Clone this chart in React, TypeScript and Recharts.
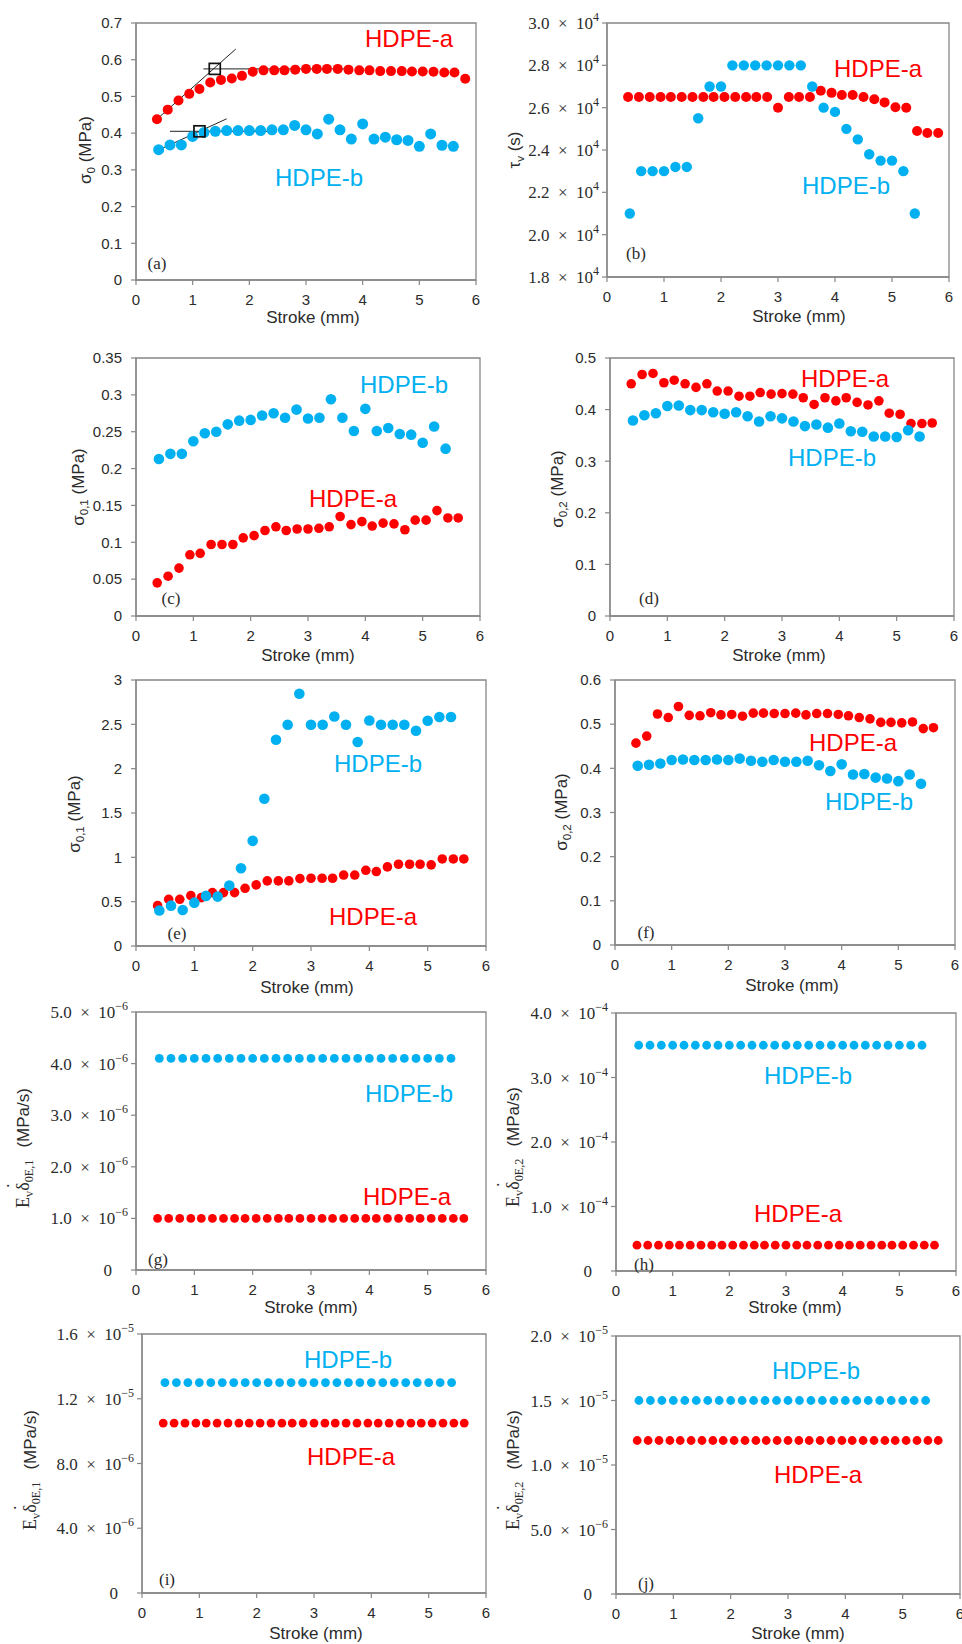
import React from "react";
import { ScatterChart, Scatter, XAxis, YAxis, ReferenceArea, ReferenceLine } from "recharts";

const RED = "#FF0000";
const BLUE = "#00B0F0";
const FRAME = "#878787";
const INK = "#2b2b2b";
const SANS = "'Liberation Sans', Arial, sans-serif";
const SERIF = "'Liberation Serif', 'Times New Roman', serif";

// stroke positions (mm) of the two series
const X_RED = [0.37, 0.56, 0.75, 0.94, 1.12, 1.31, 1.50, 1.69, 1.87, 2.06, 2.25, 2.44, 2.62, 2.81, 3.00,
  3.19, 3.37, 3.56, 3.75, 3.94, 4.12, 4.31, 4.50, 4.69, 4.87, 5.06, 5.25, 5.44, 5.62, 5.81];
const X_BLUE = [0.4, 0.6, 0.8, 1.0, 1.2, 1.4, 1.6, 1.8, 2.0, 2.2, 2.4, 2.6, 2.8, 3.0, 3.2, 3.4, 3.6, 3.8,
  4.0, 4.2, 4.4, 4.6, 4.8, 5.0, 5.2, 5.4, 5.6];
const STROKE_TICKS = [0, 1, 2, 3, 4, 5, 6];

// (a) sigma0
const A_RED = [0.438, 0.464, 0.489, 0.507, 0.52, 0.538, 0.545, 0.549, 0.556, 0.567, 0.571, 0.571, 0.571, 0.573, 0.575,
  0.575, 0.575, 0.575, 0.573, 0.571, 0.571, 0.569, 0.569, 0.569, 0.568, 0.568, 0.567, 0.565, 0.565, 0.548];
const A_BLUE = [0.355, 0.368, 0.368, 0.391, 0.402, 0.405, 0.407, 0.407, 0.407, 0.407, 0.409, 0.409, 0.421, 0.409,
  0.398, 0.438, 0.409, 0.384, 0.425, 0.384, 0.389, 0.382, 0.38, 0.364, 0.398, 0.367, 0.364];
const A_TICKS = [0, 0.1, 0.2, 0.3, 0.4, 0.5, 0.6, 0.7];
const A_RED_SLOPE = [{ x: 0.37, y: 0.438 }, { x: 1.76, y: 0.629 }];
const A_RED_FLAT = [{ x: 1.19, y: 0.575 }, { x: 3.75, y: 0.575 }];
const A_BLUE_SLOPE = [{ x: 0.41, y: 0.355 }, { x: 1.6, y: 0.439 }];
const A_BLUE_FLAT = [{ x: 0.6, y: 0.405 }, { x: 2.39, y: 0.405 }];
const A_KNEES = [{ x: 1.39, y: 0.575 }, { x: 1.12, y: 0.405 }];

// (b) tau_v
const B_RED = [26500, 26500, 26500, 26500, 26500, 26500, 26500, 26500, 26500, 26500, 26500, 26500, 26500, 26500,
  26000, 26500, 26500, 26500, 26800, 26700, 26600, 26600, 26500, 26400, 26250, 26020, 26000, 24900, 24800, 24800];
const B_BLUE = [21000, 23000, 23000, 23000, 23200, 23200, 25500, 27000, 27000, 28000, 28000, 28000, 28000, 28000,
  28000, 28000, 27000, 26000, 25800, 25000, 24500, 23800, 23500, 23500, 23000, 21000];
const B_TICKS = [18000, 20000, 22000, 24000, 26000, 28000, 30000];
const B_LABELS: [string, string][] = [["1.8", "4"], ["2.0", "4"], ["2.2", "4"], ["2.4", "4"], ["2.6", "4"], ["2.8", "4"], ["3.0", "4"]];

// (c) sigma0,1
const C_RED = [0.045, 0.054, 0.065, 0.083, 0.085, 0.097, 0.097, 0.097, 0.106, 0.109, 0.116, 0.121, 0.116, 0.118,
  0.118, 0.119, 0.121, 0.135, 0.124, 0.128, 0.122, 0.126, 0.125, 0.117, 0.13, 0.13, 0.143, 0.133, 0.133];
const C_BLUE = [0.213, 0.22, 0.22, 0.237, 0.248, 0.25, 0.26, 0.265, 0.266, 0.272, 0.275, 0.269, 0.28, 0.268, 0.269,
  0.294, 0.269, 0.251, 0.281, 0.251, 0.255, 0.247, 0.246, 0.235, 0.257, 0.227];
const C_TICKS = [0, 0.05, 0.1, 0.15, 0.2, 0.25, 0.3, 0.35];

// (d) sigma0,2
const D_RED = [0.45, 0.468, 0.47, 0.452, 0.457, 0.45, 0.443, 0.45, 0.436, 0.436, 0.426, 0.426, 0.433, 0.43, 0.431,
  0.43, 0.423, 0.41, 0.423, 0.417, 0.423, 0.414, 0.409, 0.417, 0.393, 0.391, 0.373, 0.373, 0.374];
const D_BLUE = [0.379, 0.389, 0.393, 0.407, 0.408, 0.399, 0.399, 0.395, 0.392, 0.395, 0.387, 0.377, 0.387, 0.383,
  0.377, 0.368, 0.371, 0.365, 0.373, 0.358, 0.357, 0.348, 0.348, 0.347, 0.36, 0.348];
const D_TICKS = [0, 0.1, 0.2, 0.3, 0.4, 0.5];

// (e) sigma0,1
const E_RED = [0.455, 0.527, 0.527, 0.568, 0.546, 0.602, 0.602, 0.602, 0.651, 0.689, 0.734, 0.734, 0.734, 0.76,
  0.764, 0.764, 0.764, 0.8, 0.8, 0.854, 0.84, 0.892, 0.922, 0.922, 0.922, 0.915, 0.982, 0.982, 0.982];
const E_BLUE = [0.4, 0.455, 0.406, 0.489, 0.565, 0.557, 0.681, 0.877, 1.186, 1.66, 2.326, 2.495, 2.845, 2.495, 2.495,
  2.589, 2.495, 2.3, 2.544, 2.495, 2.495, 2.495, 2.428, 2.54, 2.582, 2.582];
const E_TICKS = [0, 0.5, 1, 1.5, 2, 2.5, 3];

// (f) sigma0,2
const F_RED = [0.457, 0.473, 0.523, 0.515, 0.54, 0.52, 0.519, 0.526, 0.521, 0.522, 0.518, 0.525, 0.525, 0.524, 0.524,
  0.525, 0.521, 0.524, 0.524, 0.522, 0.519, 0.515, 0.512, 0.504, 0.504, 0.503, 0.505, 0.49, 0.492];
const F_BLUE = [0.406, 0.408, 0.411, 0.419, 0.42, 0.419, 0.419, 0.42, 0.419, 0.422, 0.417, 0.415, 0.419, 0.415, 0.415,
  0.417, 0.407, 0.394, 0.409, 0.386, 0.387, 0.379, 0.377, 0.371, 0.386, 0.365];
const F_TICKS = [0, 0.1, 0.2, 0.3, 0.4, 0.5, 0.6];

// (g) Ev*d0E,1
const G_RED = [1.0e-6, 1.0e-6, 1.0e-6, 1.0e-6, 1.0e-6, 1.0e-6, 1.0e-6, 1.0e-6, 1.0e-6, 1.0e-6, 1.0e-6, 1.0e-6,
  1.0e-6, 1.0e-6, 1.0e-6, 1.0e-6, 1.0e-6, 1.0e-6, 1.0e-6, 1.0e-6, 1.0e-6, 1.0e-6, 1.0e-6, 1.0e-6, 1.0e-6, 1.0e-6,
  1.0e-6, 1.0e-6, 1.0e-6];
const G_BLUE = [4.1e-6, 4.1e-6, 4.1e-6, 4.1e-6, 4.1e-6, 4.1e-6, 4.1e-6, 4.1e-6, 4.1e-6, 4.1e-6, 4.1e-6, 4.1e-6,
  4.1e-6, 4.1e-6, 4.1e-6, 4.1e-6, 4.1e-6, 4.1e-6, 4.1e-6, 4.1e-6, 4.1e-6, 4.1e-6, 4.1e-6, 4.1e-6, 4.1e-6, 4.1e-6];
const G_TICKS = [0, 1e-6, 2e-6, 3e-6, 4e-6, 5e-6];
const G_LABELS: [string, string][] = [["0", ""], ["1.0", "−6"], ["2.0", "−6"], ["3.0", "−6"], ["4.0", "−6"], ["5.0", "−6"]];

// (h) Ev*d0E,2
const H_RED = [4.0e-5, 4.0e-5, 4.0e-5, 4.0e-5, 4.0e-5, 4.0e-5, 4.0e-5, 4.0e-5, 4.0e-5, 4.0e-5, 4.0e-5, 4.0e-5,
  4.0e-5, 4.0e-5, 4.0e-5, 4.0e-5, 4.0e-5, 4.0e-5, 4.0e-5, 4.0e-5, 4.0e-5, 4.0e-5, 4.0e-5, 4.0e-5, 4.0e-5, 4.0e-5,
  4.0e-5, 4.0e-5, 4.0e-5];
const H_BLUE = [3.5e-4, 3.5e-4, 3.5e-4, 3.5e-4, 3.5e-4, 3.5e-4, 3.5e-4, 3.5e-4, 3.5e-4, 3.5e-4, 3.5e-4, 3.5e-4,
  3.5e-4, 3.5e-4, 3.5e-4, 3.5e-4, 3.5e-4, 3.5e-4, 3.5e-4, 3.5e-4, 3.5e-4, 3.5e-4, 3.5e-4, 3.5e-4, 3.5e-4, 3.5e-4];
const H_TICKS = [0, 1e-4, 2e-4, 3e-4, 4e-4];
const H_LABELS: [string, string][] = [["0", ""], ["1.0", "−4"], ["2.0", "−4"], ["3.0", "−4"], ["4.0", "−4"]];

// (i) Ev*d0E,1
const I_RED = [1.05e-5, 1.05e-5, 1.05e-5, 1.05e-5, 1.05e-5, 1.05e-5, 1.05e-5, 1.05e-5, 1.05e-5, 1.05e-5, 1.05e-5,
  1.05e-5, 1.05e-5, 1.05e-5, 1.05e-5, 1.05e-5, 1.05e-5, 1.05e-5, 1.05e-5, 1.05e-5, 1.05e-5, 1.05e-5, 1.05e-5,
  1.05e-5, 1.05e-5, 1.05e-5, 1.05e-5, 1.05e-5, 1.05e-5];
const I_BLUE = [1.3e-5, 1.3e-5, 1.3e-5, 1.3e-5, 1.3e-5, 1.3e-5, 1.3e-5, 1.3e-5, 1.3e-5, 1.3e-5, 1.3e-5, 1.3e-5,
  1.3e-5, 1.3e-5, 1.3e-5, 1.3e-5, 1.3e-5, 1.3e-5, 1.3e-5, 1.3e-5, 1.3e-5, 1.3e-5, 1.3e-5, 1.3e-5, 1.3e-5, 1.3e-5];
const I_TICKS = [0, 4e-6, 8e-6, 1.2e-5, 1.6e-5];
const I_LABELS: [string, string][] = [["0", ""], ["4.0", "−6"], ["8.0", "−6"], ["1.2", "−5"], ["1.6", "−5"]];

// (j) Ev*d0E,2
const J_RED = [1.19e-5, 1.19e-5, 1.19e-5, 1.19e-5, 1.19e-5, 1.19e-5, 1.19e-5, 1.19e-5, 1.19e-5, 1.19e-5, 1.19e-5,
  1.19e-5, 1.19e-5, 1.19e-5, 1.19e-5, 1.19e-5, 1.19e-5, 1.19e-5, 1.19e-5, 1.19e-5, 1.19e-5, 1.19e-5, 1.19e-5,
  1.19e-5, 1.19e-5, 1.19e-5, 1.19e-5, 1.19e-5, 1.19e-5];
const J_BLUE = [1.5e-5, 1.5e-5, 1.5e-5, 1.5e-5, 1.5e-5, 1.5e-5, 1.5e-5, 1.5e-5, 1.5e-5, 1.5e-5, 1.5e-5, 1.5e-5,
  1.5e-5, 1.5e-5, 1.5e-5, 1.5e-5, 1.5e-5, 1.5e-5, 1.5e-5, 1.5e-5, 1.5e-5, 1.5e-5, 1.5e-5, 1.5e-5, 1.5e-5, 1.5e-5];
const J_TICKS = [0, 5e-6, 1e-5, 1.5e-5, 2e-5];
const J_LABELS: [string, string][] = [["0", ""], ["5.0", "−6"], ["1.0", "−5"], ["1.5", "−5"], ["2.0", "−5"]];

// y-axis band wide enough for the "× 10ⁿ" labels, top band tall enough for their exponents
const YW = 130, XH = 40, PT = 22, PR = 10;

type Box = { x0: number; x1: number; y0: number; y1: number };

const dot = (r: number, color: string) => (p: any) =>
  <circle cx={p.cx} cy={p.cy} r={r} fill={color} />;

const knee = (p: any) =>
  <rect x={p.cx - 5.5} y={p.cy - 5.5} width={11} height={11} fill="none" stroke="#111" strokeWidth={1.7} />;

function sciTick(labels: [string, string][], ticks: number[]) {
  return (p: any) => {
    const i = ticks.indexOf(p.payload.value);
    const [m, e] = labels[i >= 0 ? i : p.index] ?? ["", ""];
    if (!e) {
      return <text x={p.x - 16} y={p.y} dy={6} textAnchor="end" fontFamily={SERIF} fontSize={17} fill={INK}>{m}</text>;
    }
    return (
      <text x={p.x} y={p.y} dy={6} textAnchor="end" fontFamily={SERIF} fontSize={17} fill={INK}>
        {m}{"\u2002×\u2002"}10<tspan dy={-8} fontSize={12}>{e}</tspan>
      </text>
    );
  };
}

interface PanelProps {
  box: Box;
  yDomain: [number, number];
  yTicks: number[];
  sci?: [string, string][];
  red: number[];
  blue: number[];
  rRed?: number;
  rBlue?: number;
  tangents?: boolean;
}

function Panel({ box, yDomain, yTicks, sci, red, blue, rRed = 4.8, rBlue = 5.3, tangents }: PanelProps) {
  const w = box.x1 - box.x0, h = box.y1 - box.y0;
  const redPts = red.map((y, i) => ({ x: X_RED[i], y }));
  const bluePts = blue.map((y, i) => ({ x: X_BLUE[i], y }));
  const line = { stroke: "#222", strokeWidth: 1 };
  return (
    <div style={{ position: "absolute", left: box.x0 - YW, top: box.y0 - PT }}>
      <ScatterChart width={w + YW + PR} height={h + PT + XH} margin={{ top: PT, right: PR, bottom: 0, left: 0 }}>
        <XAxis type="number" dataKey="x" domain={[0, 6]} ticks={STROKE_TICKS} allowDataOverflow height={XH}
          axisLine={{ stroke: FRAME, strokeWidth: 1.3 }} tickLine={{ stroke: FRAME, strokeWidth: 1.2 }}
          tickSize={5} tickMargin={9} tick={{ fontSize: 15, fill: INK, fontFamily: SANS }} />
        <YAxis type="number" dataKey="y" domain={yDomain} ticks={yTicks} allowDataOverflow width={YW}
          axisLine={{ stroke: FRAME, strokeWidth: 1.3 }} tickLine={{ stroke: FRAME, strokeWidth: 1.2 }}
          tickSize={5} tickMargin={sci ? 3 : 9}
          tick={sci ? sciTick(sci, yTicks) : { fontSize: 15, fill: INK, fontFamily: SANS }} />
        <ReferenceArea x1={0} x2={6} y1={yDomain[0]} y2={yDomain[1]} fill="none" fillOpacity={0}
          stroke={FRAME} strokeWidth={1.3} />
        <Scatter data={redPts} shape={dot(rRed, RED)} isAnimationActive={false} />
        <Scatter data={bluePts} shape={dot(rBlue, BLUE)} isAnimationActive={false} />
        {tangents && <ReferenceLine segment={A_RED_SLOPE} {...line} />}
        {tangents && <ReferenceLine segment={A_RED_FLAT} {...line} />}
        {tangents && <ReferenceLine segment={A_BLUE_SLOPE} {...line} />}
        {tangents && <ReferenceLine segment={A_BLUE_FLAT} {...line} />}
        {tangents && <Scatter data={A_KNEES} shape={knee} isAnimationActive={false} />}
      </ScatterChart>
    </div>
  );
}

const Sub = ({ children }: { children: React.ReactNode }) =>
  <span style={{ fontSize: "0.68em", position: "relative", top: "0.32em" }}>{children}</span>;

const DotDelta = () => (
  <span style={{ position: "relative", display: "inline-block" }}>
    δ<span style={{ position: "absolute", left: "0.12em", top: "-0.52em" }}>˙</span>
  </span>
);

function Note({ x, y, color = INK, size = 24, font = SANS, children }: any) {
  return (
    <div style={{
      position: "absolute", left: x, top: y, transform: "translate(-50%, -50%)",
      color, fontSize: size, fontFamily: font, whiteSpace: "nowrap", lineHeight: 1,
    }}>{children}</div>
  );
}

function YTitle({ x, y, children }: any) {
  return (
    <div style={{
      position: "absolute", left: x, top: y, transform: "translate(-50%, -50%) rotate(-90deg)",
      color: INK, fontSize: 17, fontFamily: SANS, whiteSpace: "nowrap", lineHeight: 1,
    }}>{children}</div>
  );
}

const RateTitle = ({ idx }: { idx: string }) => (
  <>
    <span style={{ fontFamily: SERIF, fontSize: 18 }}>E<Sub>v</Sub><DotDelta /><Sub>0E,{idx}</Sub></span>
    <span style={{ marginLeft: 12 }}>(MPa/s)</span>
  </>
);

export default function App() {
  const stroke = (x: number, y: number) => <Note x={x} y={y} size={17}>Stroke (mm)</Note>;
  const tag = (x: number, y: number, t: string) => <Note x={x} y={y} size={17} font={SERIF}>({t})</Note>;
  const a = (x: number, y: number) => <Note x={x} y={y} color={RED}>HDPE-a</Note>;
  const b = (x: number, y: number) => <Note x={x} y={y} color={BLUE}>HDPE-b</Note>;
  return (
    <div style={{ position: "absolute", left: 0, top: 0, width: 962, height: 1644, background: "#fff", overflow: "hidden", fontFamily: SANS }}>
      <Panel box={{ x0: 136, x1: 476, y0: 23, y1: 280 }} yDomain={[0, 0.7]} yTicks={A_TICKS} red={A_RED} blue={A_BLUE} tangents rRed={5} rBlue={5.5} />
      <Panel box={{ x0: 607, x1: 949, y0: 23, y1: 277 }} yDomain={[18000, 30000]} yTicks={B_TICKS} sci={B_LABELS} red={B_RED} blue={B_BLUE} rRed={5} rBlue={5.2} />
      <Panel box={{ x0: 136, x1: 480, y0: 358, y1: 616 }} yDomain={[0, 0.35]} yTicks={C_TICKS} red={C_RED} blue={C_BLUE} />
      <Panel box={{ x0: 610, x1: 954, y0: 358, y1: 616 }} yDomain={[0, 0.5]} yTicks={D_TICKS} red={D_RED} blue={D_BLUE} />
      <Panel box={{ x0: 136, x1: 486, y0: 680, y1: 946 }} yDomain={[0, 3]} yTicks={E_TICKS} red={E_RED} blue={E_BLUE} />
      <Panel box={{ x0: 615, x1: 955, y0: 680, y1: 945 }} yDomain={[0, 0.6]} yTicks={F_TICKS} red={F_RED} blue={F_BLUE} />
      <Panel box={{ x0: 136, x1: 486, y0: 1012, y1: 1270 }} yDomain={[0, 5e-6]} yTicks={G_TICKS} sci={G_LABELS} red={G_RED} blue={G_BLUE} rRed={4.4} rBlue={4.4} />
      <Panel box={{ x0: 616, x1: 956, y0: 1013, y1: 1271 }} yDomain={[0, 4e-4]} yTicks={H_TICKS} sci={H_LABELS} red={H_RED} blue={H_BLUE} rRed={4.4} rBlue={4.4} />
      <Panel box={{ x0: 142, x1: 486, y0: 1334, y1: 1593 }} yDomain={[0, 1.6e-5]} yTicks={I_TICKS} sci={I_LABELS} red={I_RED} blue={I_BLUE} rRed={4.4} rBlue={4.4} />
      <Panel box={{ x0: 616, x1: 960, y0: 1336, y1: 1594 }} yDomain={[0, 2e-5]} yTicks={J_TICKS} sci={J_LABELS} red={J_RED} blue={J_BLUE} rRed={4.4} rBlue={4.4} />

      {stroke(313, 317)}{stroke(799, 316)}{stroke(308, 655)}{stroke(779, 655)}{stroke(307, 987)}
      {stroke(792, 985)}{stroke(311, 1307)}{stroke(795, 1307)}{stroke(316, 1633)}{stroke(798, 1633)}

      {tag(157, 263, "a")}{tag(636, 253, "b")}{tag(171, 598, "c")}{tag(649, 598, "d")}{tag(177, 933, "e")}
      {tag(646, 932, "f")}{tag(158, 1259, "g")}{tag(644, 1264, "h")}{tag(167, 1579, "i")}{tag(646, 1583, "j")}

      {a(409, 39)}{b(319, 178)}
      {a(878, 69)}{b(846, 186)}
      {b(404, 385)}{a(353, 499)}
      {a(845, 379)}{b(832, 458)}
      {b(378, 764)}{a(373, 917)}
      {a(853, 743)}{b(869, 802)}
      {b(409, 1094)}{a(407, 1197)}
      {b(808, 1076)}{a(798, 1214)}
      {b(348, 1360)}{a(351, 1457)}
      {b(816, 1371)}{a(818, 1475)}

      <YTitle x={85} y={150}>σ<Sub>0</Sub> (MPa)</YTitle>
      <YTitle x={514} y={150}>τ<Sub>v</Sub> (s)</YTitle>
      <YTitle x={78} y={487}>σ<Sub>0,1</Sub> (MPa)</YTitle>
      <YTitle x={557} y={489}>σ<Sub>0,2</Sub> (MPa)</YTitle>
      <YTitle x={74} y={814}>σ<Sub>0,1</Sub> (MPa)</YTitle>
      <YTitle x={561} y={812}>σ<Sub>0,2</Sub> (MPa)</YTitle>
      <YTitle x={23} y={1148}><RateTitle idx="1" /></YTitle>
      <YTitle x={513} y={1147}><RateTitle idx="2" /></YTitle>
      <YTitle x={30} y={1470}><RateTitle idx="1" /></YTitle>
      <YTitle x={513} y={1470}><RateTitle idx="2" /></YTitle>
    </div>
  );
}
